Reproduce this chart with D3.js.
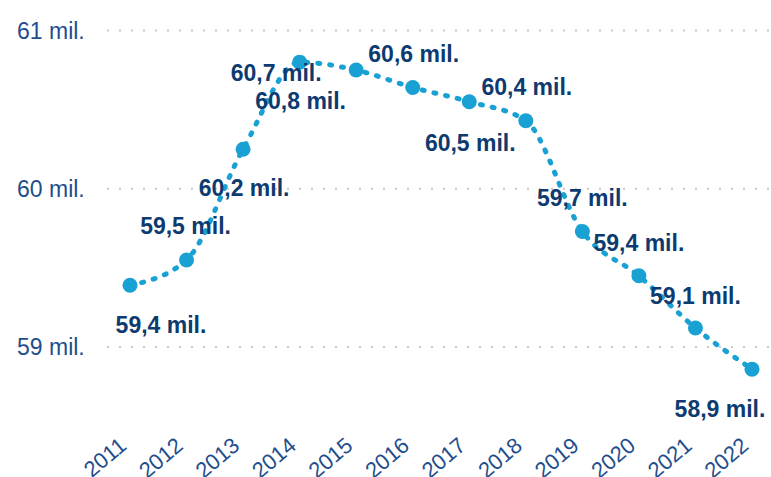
<!DOCTYPE html>
<html>
<head>
<meta charset="utf-8">
<script src="https://cdn.jsdelivr.net/npm/d3@7"></script>
<style>
  body { margin: 0; background: #fff; }
  svg { display: block; font-family: "Liberation Sans", Arial, sans-serif; }
</style>
</head>
<body>
<svg width="771" height="477"></svg>
<script>
// population (millions) per year
let years = ["2011", "2012", "2013", "2014", "2015", "2016", "2017", "2018", "2019", "2020", "2021", "2022"];
let values = [59.39, 59.55, 60.25, 60.80, 60.75, 60.64, 60.55, 60.43, 59.73, 59.45, 59.12, 58.86];
let labels = ["59,4 mil.", "59,5 mil.", "60,2 mil.", "60,8 mil.", "60,7 mil.", "60,6 mil.",
              "60,5 mil.", "60,4 mil.", "59,7 mil.", "59,4 mil.", "59,1 mil.", "58,9 mil."];
let yTicks = [59, 60, 61];
let yTickLabels = ["59 mil.", "60 mil.", "61 mil."];

// where each value label sits relative to its point
let labelOffsets = [[31, 39], [-1, -34], [1, 39], [1, 39], [-80, 3], [1, -34],
                    [1, 41], [1, -34], [0, -34], [0, -33], [0, -32], [-32, 40]];

let svg = d3.select("svg");

let x = d3.scalePoint().domain(years).range([130, 752]);
let y = d3.scaleLinear().domain([59, 61]).range([347, 30.5]);

let axisColor = "#1f4e8c";
let labelColor = "#0d3b70";
let lineColor = "#1aa1d4";

// gridlines
svg.append("g")
    .selectAll("line")
    .data(yTicks)
    .enter().append("line")
    .attr("x1", 107)
    .attr("x2", 770)
    .attr("y1", function(d) { return y(d); })
    .attr("y2", function(d) { return y(d); })
    .attr("stroke", "#c9c9c9")
    .attr("stroke-width", 2)
    .attr("stroke-dasharray", "2 10");

svg.append("g")
    .selectAll("text")
    .data(yTicks)
    .enter().append("text")
    .attr("x", 17)
    .attr("y", function(d) { return y(d); })
    .attr("dy", "0.36em")
    .attr("font-size", 23)
    .attr("fill", axisColor)
    .text(function(d, i) { return yTickLabels[i]; });

// x labels, rotated
svg.append("g")
    .selectAll("text")
    .data(years)
    .enter().append("text")
    .attr("transform", function(d) { return "translate(" + (x(d) - 12) + ",436) rotate(-40)"; })
    .attr("text-anchor", "end")
    .attr("dy", "0.7em")
    .attr("font-size", 22)
    .attr("fill", axisColor)
    .text(function(d) { return d; });

let pts = years.map(function(d, i) { return { year: d, value: values[i], label: labels[i], off: labelOffsets[i] }; });

let line = d3.line()
    .x(function(d) { return x(d.year); })
    .y(function(d) { return y(d.value); })
    .curve(d3.curveMonotoneX);

svg.append("path")
    .datum(pts)
    .attr("d", line)
    .attr("fill", "none")
    .attr("stroke", lineColor)
    .attr("stroke-width", 5)
    .attr("stroke-linecap", "round")
    .attr("stroke-dasharray", "2 10");

svg.append("g")
    .selectAll("circle")
    .data(pts)
    .enter().append("circle")
    .attr("cx", function(d) { return x(d.year); })
    .attr("cy", function(d) { return y(d.value); })
    .attr("r", 7.5)
    .attr("fill", lineColor);

svg.append("g")
    .selectAll("text")
    .data(pts)
    .enter().append("text")
    .attr("x", function(d) { return x(d.year) + d.off[0]; })
    .attr("y", function(d) { return y(d.value) + d.off[1]; })
    .attr("dy", "0.36em")
    .attr("text-anchor", "middle")
    .attr("font-size", 23)
    .attr("font-weight", "bold")
    .attr("fill", labelColor)
    .text(function(d) { return d.label; });
</script>
</body>
</html>
